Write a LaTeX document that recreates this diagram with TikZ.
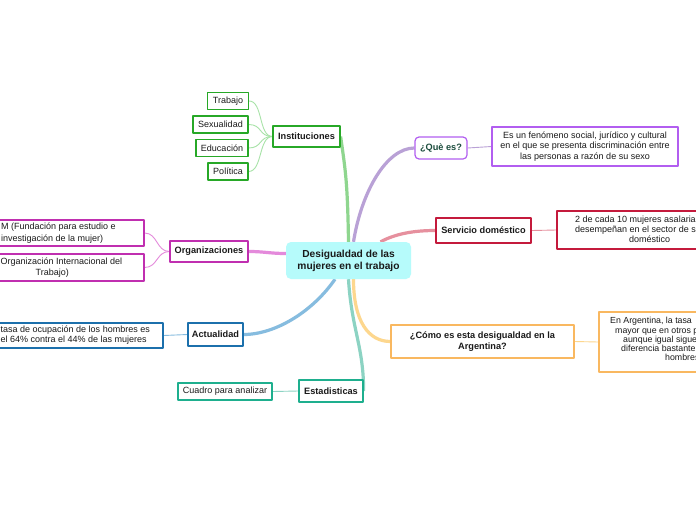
\documentclass[tikz,border=0pt]{standalone}
\usepackage{fontspec}
\setmainfont{Liberation Sans}
\usetikzlibrary{backgrounds}
\definecolor{mapCyan}{HTML}{B6FBFB}
\definecolor{mapInk}{HTML}{1A1A1A}
\definecolor{mapQue}{HTML}{1C4D3E}
\definecolor{mapGreen}{HTML}{27A827}
\definecolor{mapGreenLine}{HTML}{8FD68F}
\definecolor{mapGreenThin}{HTML}{A8E3A8}
\definecolor{mapMagenta}{HTML}{C02FB0}
\definecolor{mapMagentaLine}{HTML}{E48ADB}
\definecolor{mapBlue}{HTML}{1C70AC}
\definecolor{mapBlueLine}{HTML}{86BCDF}
\definecolor{mapTeal}{HTML}{1EAF8E}
\definecolor{mapTealLine}{HTML}{8CD3C3}
\definecolor{mapPurple}{HTML}{B25EF0}
\definecolor{mapPurpleLine}{HTML}{B9A1D6}
\definecolor{mapRed}{HTML}{C41A3C}
\definecolor{mapRedLine}{HTML}{E6909E}
\definecolor{mapOrange}{HTML}{F9B860}
\definecolor{mapOrangeLine}{HTML}{FDD78E}

\begin{document}
\begin{tikzpicture}[x=1pt,y=-1pt,line cap=round,line join=round]
\path[use as bounding box] (0,0) rectangle (696,520);
\clip (0,0) rectangle (696,520);
\tikzset{topic/.style={draw,fill=white,line width=1.2pt,text=mapInk,inner sep=0pt,align=center,font=\bfseries\fontsize{9.2}{11}\selectfont},leaf/.style={draw,fill=white,line width=1.2pt,text=mapInk,inner sep=0pt,align=center,font=\fontsize{9}{10.5}\selectfont},note/.style={text=mapInk,inner sep=0pt,align=left,anchor=west,font=\fontsize{9}{10.5}\selectfont},branch/.style={line width=3.2pt},twig/.style={line width=0.9pt}}
\node[fill=mapCyan,rounded corners=5pt,minimum width=125pt,minimum height=37pt,inner sep=0pt,align=center,text=mapInk,font=\bfseries\fontsize{10.2}{12}\selectfont] (core) at (348.5,260.5) {Desigualdad de las\\mujeres en el trabajo};
\node[topic,draw=mapGreen,minimum width=67pt,minimum height=21pt] (inst) at (306.5,136.5) {Instituciones};
\node[leaf,draw=mapGreen,minimum width=41pt,minimum height=17pt] (trabajo) at (228,101) {Trabajo};
\node[leaf,draw=mapGreen,minimum width=55pt,minimum height=17pt] (sexualidad) at (220.5,124.5) {Sexualidad};
\node[leaf,draw=mapGreen,minimum width=52pt,minimum height=17pt] (educacion) at (222,148) {Educación};
\node[leaf,draw=mapGreen,minimum width=40pt,minimum height=17pt] (politica) at (228,171.5) {Política};
\node[topic,draw=mapMagenta,minimum width=78pt,minimum height=21pt] (org) at (209,251.5) {Organizaciones};
\node[leaf,draw=mapMagenta,minimum width=204pt,minimum height=26pt] (fundam) at (42,233) {};
\node[note,font=\fontsize{9}{11.5}\selectfont] (fundamtxt) at (1,233) {M (Fundación para estudio e\\investigación de la mujer)};
\node[leaf,draw=mapMagenta,minimum width=204pt,minimum height=27pt] (oit) at (42,267.5) {};
\node[note,font=\fontsize{9}{11.5}\selectfont] (oittxt) at (0.5,267.5) {Organización Internacional del\\\hspace*{35pt}Trabajo)};
\node[topic,draw=mapBlue,minimum width=55pt,minimum height=23pt] (actual) at (215.5,334.5) {Actualidad};
\node[leaf,draw=mapBlue,minimum width=223pt,minimum height=25pt] (tasa) at (51.5,335.5) {};
\node[note,font=\fontsize{9}{10}\selectfont] (tasatxt) at (0.5,335.5) {tasa de ocupación de los hombres es\\el 64\% contra el 44\% de las mujeres};
\node[topic,draw=mapTeal,minimum width=64pt,minimum height=22pt] (estad) at (331,391) {Estadisticas};
\node[leaf,draw=mapTeal,minimum width=94pt,minimum height=17pt] (cuadro) at (225,391.5) {Cuadro para analizar};
\node[topic,draw=mapPurple,rounded corners=4pt,text=mapQue,minimum width=52pt,minimum height=22pt] (quees) at (441,148) {¿Què es?};
\node[leaf,draw=mapPurple,minimum width=186pt,minimum height=39pt] (queesbox) at (585,146.5) {Es un fenómeno social, jurídico y cultural\\en el que se presenta discriminación entre\\las personas a razón de su sexo};
\node[topic,draw=mapRed,minimum width=95pt,minimum height=25pt] (serv) at (483.5,230.5) {Servicio doméstico};
\node[leaf,draw=mapRed,minimum width=186pt,minimum height=38pt] (servbox) at (650,230) {};
\node[note,font=\fontsize{9}{9.8}\selectfont] (servtxt) at (575,229.5) {2 de cada 10 mujeres asalariadas\\desempeñan en el sector de servicio\\\hspace*{54pt}doméstico};
\node[topic,draw=mapOrange,minimum width=183pt,minimum height=33pt] (como) at (482.5,341.5) {¿Cómo es esta desigualdad en la\\Argentina?};
\node[leaf,draw=mapOrange,minimum width=166pt,minimum height=60pt] (comobox) at (682,342) {};
\node[note,font=\fontsize{8.8}{9.1}\selectfont] (comotxt) at (610,339) {En Argentina, la tasa\\\hspace*{5pt}mayor que en otros países\\\hspace*{13pt}aunque igual sigue\\\hspace*{11pt}diferencia bastante\\\hspace*{55pt}hombres};
\begin{scope}[on background layer]
\fill[white] (0,0) rectangle (696,520);
\draw[branch,mapGreenLine] (core.north) .. controls +(-1,-60) and +(5,35) .. (inst.east);
\draw[branch,mapPurpleLine] ([xshift=5pt]core.north) .. controls +(8,-50) and +(-28,0) .. (quees.west);
\draw[branch,mapRedLine] ([xshift=32pt]core.north) .. controls +(15,-8) and +(-22,0) .. (serv.west);
\draw[branch,mapOrangeLine] ([xshift=5pt]core.south) .. controls +(0,42) and +(-22,0) .. (como.west);
\draw[branch,mapTealLine] (core.south) .. controls +(3,50) and +(0,-45) .. (estad.east);
\draw[branch,mapBlueLine] ([xshift=-13.5pt]core.south) .. controls +(-22,32) and +(32,0) .. (actual.east);
\draw[branch,mapMagentaLine] ([yshift=7pt]core.west) .. controls +(-16,0) and +(16,0) .. (org.east);
\draw[twig,mapGreenThin] (inst.west) .. controls +(-14,0) and +(14,0) .. (trabajo.east);
\draw[twig,mapGreenThin] (inst.west) .. controls +(-14,0) and +(14,0) .. (sexualidad.east);
\draw[twig,mapGreenThin] (inst.west) .. controls +(-14,0) and +(14,0) .. (educacion.east);
\draw[twig,mapGreenThin] (inst.west) .. controls +(-14,0) and +(14,0) .. (politica.east);
\draw[twig,mapMagentaLine] (org.west) .. controls +(-13,0) and +(13,0) .. (fundam.east);
\draw[twig,mapMagentaLine] (org.west) .. controls +(-13,0) and +(13,0) .. (oit.east);
\draw[twig,mapBlueLine] (actual.west) -- (tasa.east);
\draw[twig,mapTealLine] (estad.west) -- (cuadro.east);
\draw[twig,mapPurpleLine] (quees.east) -- (queesbox.west);
\draw[twig,mapRedLine] (serv.east) -- (servbox.west);
\draw[twig,mapOrangeLine] (como.east) -- (comobox.west);
\end{scope}
\end{tikzpicture}
\end{document}
